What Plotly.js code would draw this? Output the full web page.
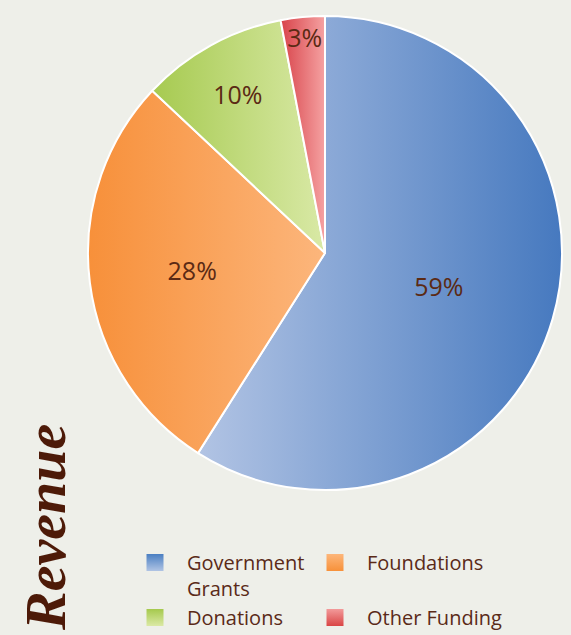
<!DOCTYPE html>
<html>
<head>
<meta charset="utf-8">
<script src="https://cdn.plot.ly/plotly-3.0.1.min.js"></script>
<style>
  html, body { margin: 0; padding: 0; background: #eeefe9; }
  #chart { width: 571px; height: 635px; }
</style>
</head>
<body>
<div id="chart"></div>
<script>
// Data
var categories = ['Government<br>Grants', 'Foundations', 'Donations', 'Other Funding'];
var shares = [59, 28, 10, 3];
var sliceColors = ['#7fa0d2', '#f9a25a', '#bfdb7c', '#e87272'];
// gradient stops: [left, right] for slices; [top, bottom] for legend squares
var sliceGradients = [
  ['#b2c4e4', '#4679bf'],
  ['#f7903a', '#fcb67c'],
  ['#a6ca50', '#d9e9a6'],
  ['#d8434a', '#f5a2a2']
];
var legendGradients = [
  ['#4a7fc2', '#b0c4e4'],
  ['#fdb67a', '#f7913a'],
  ['#a5c94d', '#dbe9a5'],
  ['#f39a9a', '#d94545']
];

var W = 571, H = 635;
var ml = 60, mr = 9;
var gw = W - ml - mr;

var trace = {
  type: 'pie',
  labels: categories,
  values: shares,
  sort: false,
  direction: 'clockwise',
  rotation: 0,
  textinfo: 'percent',
  textposition: 'inside',
  insidetextorientation: 'horizontal',
  insidetextfont: { family: 'Open Sans, sans-serif', size: 25, color: '#5b2a14' },
  marker: { colors: sliceColors, line: { color: '#ffffff', width: 2 } },
  hoverinfo: 'label+percent',
  domain: { x: [(88 - ml) / gw, (562 - ml) / gw], y: [(H - 490) / H, (H - 16) / H] }
};

var layout = {
  width: W, height: H,
  margin: { l: ml, r: mr, t: 0, b: 0, autoexpand: false },
  paper_bgcolor: 'rgba(0,0,0,0)',
  plot_bgcolor: 'rgba(0,0,0,0)',
  showlegend: true,
  uniformtext: { mode: 'show', minsize: 25 },
  legend: {
    orientation: 'h',
    x: (123 - ml) / gw, xanchor: 'left',
    y: (H - 543) / H, yanchor: 'top',
    valign: 'top',
    itemwidth: 54,
    entrywidth: 111,
    font: { family: 'Open Sans, sans-serif', size: 20, color: '#5a2a18' },
    bgcolor: 'rgba(0,0,0,0)',
    traceorder: 'normal'
  },
  annotations: [{
    text: '<b><i>Revenue</i></b>',
    xref: 'paper', yref: 'paper',
    x: (45 - ml) / gw, y: (H - 528) / H,
    xanchor: 'center', yanchor: 'middle',
    textangle: -90,
    showarrow: false,
    font: { family: 'Liberation Serif, serif', size: 58, color: '#4d1a08' }
  }]
};

Plotly.newPlot('chart', [trace], layout, { displayModeBar: false, staticPlot: true }).then(function (gd) {
  var svg = gd.querySelector('svg.main-svg');
  var ns = 'http://www.w3.org/2000/svg';
  var defs = svg.querySelector('defs') || svg.insertBefore(document.createElementNS(ns, 'defs'), svg.firstChild);
  function addGrad(id, stops, vertical) {
    var lg = document.createElementNS(ns, 'linearGradient');
    lg.setAttribute('id', id);
    lg.setAttribute('x1', '0'); lg.setAttribute('y1', '0');
    lg.setAttribute('x2', vertical ? '0' : '1'); lg.setAttribute('y2', vertical ? '1' : '0');
    stops.forEach(function (c, i) {
      var s = document.createElementNS(ns, 'stop');
      s.setAttribute('offset', i === 0 ? '0' : '1');
      s.setAttribute('stop-color', c);
      lg.appendChild(s);
    });
    defs.appendChild(lg);
  }
  sliceGradients.forEach(function (g, i) { addGrad('sg' + i, g, false); });
  legendGradients.forEach(function (g, i) { addGrad('lgr' + i, g, true); });
  var slices = gd.querySelectorAll('g.slice path.surface');
  slices.forEach(function (p, i) { p.style.fill = 'url(#sg' + i + ')'; });
  var lps = gd.querySelectorAll('.legendpoints path');
  lps.forEach(function (p, i) {
    p.setAttribute('d', 'M8.5,8.5H-8.5V-8.5H8.5Z');
    p.style.fill = 'url(#lgr' + i + ')';
    p.style.stroke = 'none';
  });
  // let the last column's text show fully
  gd.querySelectorAll('.legend .scrollbox').forEach(function (el) { el.removeAttribute('clip-path'); });
  gd.querySelectorAll('.legend').forEach(function (el) { el.removeAttribute('clip-path'); });
});
</script>
</body>
</html>
